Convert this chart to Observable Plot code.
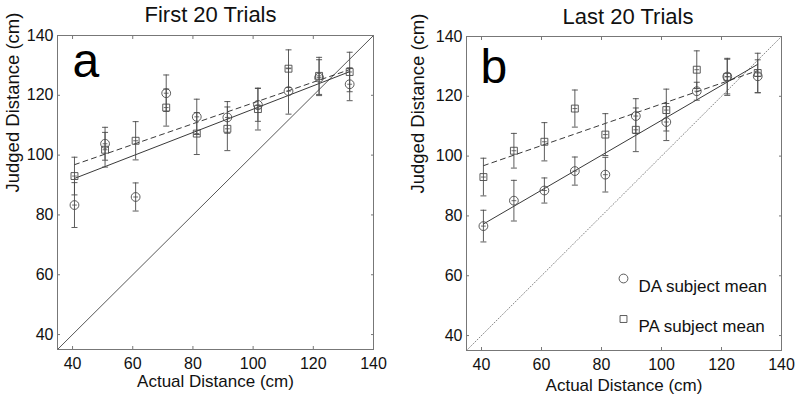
<!DOCTYPE html>
<html><head><meta charset="utf-8">
<script src="https://cdn.jsdelivr.net/npm/d3@7"></script>
<script src="https://cdn.jsdelivr.net/npm/@observablehq/plot@0.6"></script>
<style>
body{margin:0;background:#fff;}
#wrap{display:flex;width:800px;height:400px;overflow:hidden;}
</style></head><body><div id="wrap"></div>
<script>
// ---- data ----
const distances = [40.64, 50.8, 60.96, 71.12, 81.28, 91.44, 101.6, 111.76, 121.92, 132.08];
const daFirst    = [83.3, 103.8, 86.0, 120.7, 112.8, 112.6, 116.8, 121.4, 125.9, 123.7];
const daFirstErr = [7.5, 5.5, 4.7, 6.1, 5.9, 5.3, 5.5, 7.7, 6.0, 5.5];
const daLast     = [76.6, 85.1, 88.5, 95.0, 93.8, 113.4, 111.4, 121.7, 126.6, 126.7];
const daLastErr  = [5.3, 6.8, 4.2, 4.7, 5.8, 5.8, 6.2, 3.0, 5.8, 5.5];
const paMean     = [93.0, 101.8, 104.8, 115.9, 107.2, 108.8, 115.4, 128.9, 126.5, 127.8];
const paErr      = [6.3, 5.8, 6.4, 6.2, 7.0, 7.3, 7.0, 6.3, 6.2, 6.6];
const fitX       = [40.64, 132.08];
const daFitFirst = [92.2, 127.9];
const daFitLast  = [77.3, 130.7];
const paFit      = [96.8, 128.6];
const identity   = [35, 140];
const ticks      = [40, 60, 80, 100, 120, 140];
const titles     = ["First 20 Trials", "Last 20 Trials"];
const letters    = ["a", "b"];
const xLabel     = "Actual Distance (cm)";
const yLabel     = "Judged Distance (cm)";
const legendLabels  = ["DA subject mean", "PA subject mean"];
const legendSymbols = ["circle", "square"];

// ---- helpers ----
const hbar = {draw(ctx, size) { const w = Math.sqrt(size / Math.PI); ctx.moveTo(-w, 0); ctx.lineTo(w, 0); }};
const MARK = "#4a4a4a";
const FONT = "'Liberation Sans', Arial, Helvetica, sans-serif";

function panel(cfg) {
  const da = distances.map((x, i) => ({x, y: cfg.da[i], e: cfg.daErr[i]}));
  const pa = distances.map((x, i) => ({x, y: paMean[i], e: paErr[i]}));
  const all = da.concat(pa);
  const fDA = fitX.map((x, i) => ({x, y: cfg.daFit[i]}));
  const fPA = fitX.map((x, i) => ({x, y: paFit[i]}));
  const diag = identity.map(v => ({x: v, y: v}));
  const marks = [
    Plot.line(diag, {x: "x", y: "y", stroke: cfg.diagStroke, strokeWidth: cfg.diagWidth, strokeDasharray: cfg.diagDash}),
    Plot.line(fDA, {x: "x", y: "y", stroke: "#222", strokeWidth: 0.9}),
    Plot.line(fPA, {x: "x", y: "y", stroke: "#222", strokeWidth: 0.9, strokeDasharray: "5,4"}),
    Plot.ruleX(all, {x: "x", y1: d => d.y - d.e, y2: d => d.y + d.e, stroke: MARK, strokeWidth: 0.9}),
    Plot.dot(all, {x: "x", y: d => d.y - d.e, symbol: hbar, r: 3, stroke: MARK, fill: "none", strokeWidth: 0.9}),
    Plot.dot(all, {x: "x", y: d => d.y + d.e, symbol: hbar, r: 3, stroke: MARK, fill: "none", strokeWidth: 0.9}),
    Plot.dot(all, {x: "x", y: "y", symbol: hbar, r: 2.4, stroke: MARK, fill: "none", strokeWidth: 0.8}),
    Plot.dot(da, {x: "x", y: "y", symbol: "circle", r: 4.4, stroke: MARK, fill: "none", strokeWidth: 0.9}),
    Plot.dot(pa, {x: "x", y: "y", symbol: "square", r: 3.9, stroke: MARK, fill: "none", strokeWidth: 0.9}),
    Plot.frame({stroke: "#777", strokeWidth: 1}),
    Plot.axisX({anchor: "bottom", ticks, tickSize: -3, tickPadding: 11, label: null, stroke: "#777", fontSize: 16}),
    Plot.axisX({anchor: "top", ticks, tickSize: -3, tickFormat: () => "", label: null, stroke: "#777"}),
    Plot.axisY({anchor: "left", ticks, tickSize: -3, tickPadding: 7, label: null, stroke: "#777", fontSize: 16}),
    Plot.axisY({anchor: "right", ticks, tickSize: -3, tickFormat: () => "", label: null, stroke: "#777"}),
    Plot.text([titles[cfg.i]], {text: d => d, frameAnchor: "top", dx: cfg.titleDx, dy: cfg.titleDy, lineAnchor: "bottom", fontSize: 22, fill: "#111"}),
    Plot.text([letters[cfg.i]], {text: d => d, frameAnchor: "top-left", textAnchor: "start", dx: cfg.letterDx, dy: cfg.letterDy, lineAnchor: "bottom", fontSize: 48, fill: "#000"}),
    Plot.text([xLabel], {text: d => d, frameAnchor: "bottom", dy: cfg.xLabDy, lineAnchor: "bottom", fontSize: 17, fill: "#111"}),
    Plot.text([yLabel], {text: d => d, frameAnchor: "left", dx: cfg.yLabDx, rotate: -90, fontSize: 18.5, fill: "#111"})
  ];
  if (cfg.legend) {
    legendLabels.forEach((lab, i) => {
      marks.push(Plot.dot([lab], {frameAnchor: "top-left", dx: 157, dy: 242 + i * 40.5, symbol: legendSymbols[i], r: legendSymbols[i] === "circle" ? 4.4 : 3.9, stroke: MARK, fill: "none", strokeWidth: 0.9}));
      marks.push(Plot.text([lab], {text: d => d, frameAnchor: "top-left", textAnchor: "start", dx: 172, dy: 243 + i * 40.5, fontSize: 17, fill: "#111"}));
    });
  }
  return Plot.plot({
    width: 400, height: 400,
    marginLeft: cfg.m[0], marginRight: cfg.m[1], marginTop: cfg.m[2], marginBottom: cfg.m[3],
    x: {domain: [35, 140]},
    y: {domain: [35, 140]},
    style: {fontFamily: FONT, fontSize: "16px", color: "#111", background: "#fff", overflow: "visible"},
    marks
  });
}

const wrap = document.getElementById("wrap");
wrap.appendChild(panel({i: 0, da: daFirst, daErr: daFirstErr, daFit: daFitFirst, diagStroke: "#444", diagWidth: 0.9, diagDash: null,
  m: [57, 27, 35, 51], titleDx: -5, titleDy: -14, letterDx: 15, letterDy: 41, xLabDy: 37, yLabDx: -44, legend: false}));
wrap.appendChild(panel({i: 1, da: daLast, daErr: daLastErr, daFit: daFitLast, diagStroke: "#666", diagWidth: 0.8, diagDash: "1,2",
  m: [66, 19, 36, 50], titleDx: 4, titleDy: -13, letterDx: 14, letterDy: 46, xLabDy: 40, yLabDx: -48, legend: true}));
</script>
</body></html>
